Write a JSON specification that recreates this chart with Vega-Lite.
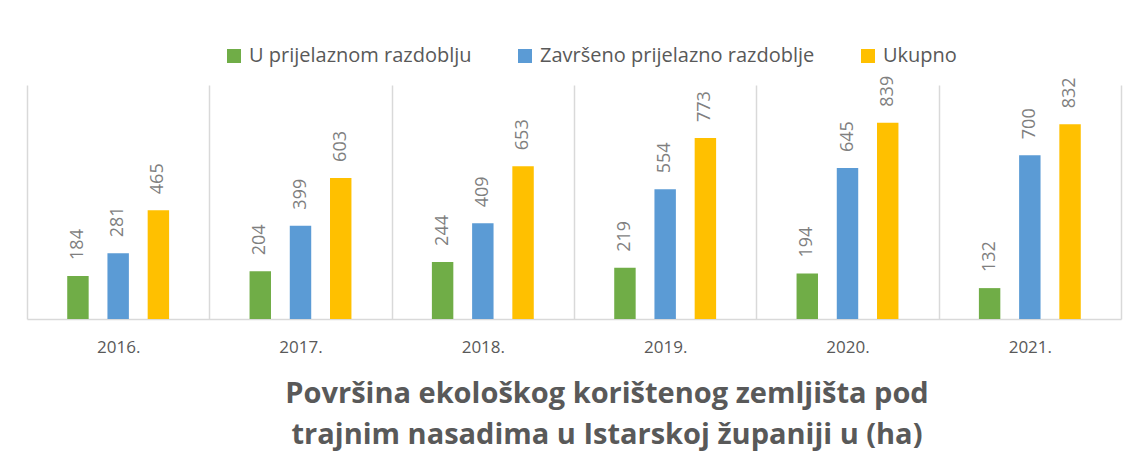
{
  "$schema": "https://vega.github.io/schema/vega-lite/v6.json",
  "width": 1094,
  "height": 234,
  "autosize": {"type": "none"},
  "padding": {"left": 27, "top": 85, "right": 25, "bottom": 142},
  "background": "white",
  "config": {"view": {"stroke": null}, "font": "Open Sans"},
  "data": {"values": [
    {"year": "2016.", "series": "U prijelaznom razdoblju", "value": 184},
    {"year": "2016.", "series": "Završeno prijelazno razdoblje", "value": 281},
    {"year": "2016.", "series": "Ukupno", "value": 465},
    {"year": "2017.", "series": "U prijelaznom razdoblju", "value": 204},
    {"year": "2017.", "series": "Završeno prijelazno razdoblje", "value": 399},
    {"year": "2017.", "series": "Ukupno", "value": 603},
    {"year": "2018.", "series": "U prijelaznom razdoblju", "value": 244},
    {"year": "2018.", "series": "Završeno prijelazno razdoblje", "value": 409},
    {"year": "2018.", "series": "Ukupno", "value": 653},
    {"year": "2019.", "series": "U prijelaznom razdoblju", "value": 219},
    {"year": "2019.", "series": "Završeno prijelazno razdoblje", "value": 554},
    {"year": "2019.", "series": "Ukupno", "value": 773},
    {"year": "2020.", "series": "U prijelaznom razdoblju", "value": 194},
    {"year": "2020.", "series": "Završeno prijelazno razdoblje", "value": 645},
    {"year": "2020.", "series": "Ukupno", "value": 839},
    {"year": "2021.", "series": "U prijelaznom razdoblju", "value": 132},
    {"year": "2021.", "series": "Završeno prijelazno razdoblje", "value": 700},
    {"year": "2021.", "series": "Ukupno", "value": 832}
  ]},
  "title": {
    "text": ["Površina ekološkog korištenog zemljišta pod", "trajnim nasadima u Istarskoj županiji u (ha)"],
    "orient": "bottom",
    "anchor": "middle",
    "dx": 33,
    "offset": 25,
    "font": "Open Sans",
    "fontSize": 29,
    "fontWeight": "bold",
    "color": "#595959",
    "lineHeight": 41,
    "limit": 0
  },
  "encoding": {
    "x": {
      "field": "year", "type": "nominal", "title": null,
      "scale": {"paddingInner": 0, "paddingOuter": 0},
      "axis": {
        "labelAngle": 0, "labelFontSize": 17, "labelColor": "#595959", "labelPadding": 20,
        "ticks": false, "grid": true, "tickBand": "extent", "gridColor": "#d9d9d9", "gridWidth": 1.5,
        "domainColor": "#d9d9d9", "domainWidth": 1.5
      }
    },
    "xOffset": {
      "field": "series", "type": "nominal",
      "sort": ["U prijelaznom razdoblju", "Završeno prijelazno razdoblje", "Ukupno"],
      "scale": {"paddingInner": 0.467, "paddingOuter": 1.164}
    },
    "y": {
      "field": "value", "type": "quantitative",
      "scale": {"domain": [0, 1000], "nice": false},
      "axis": null
    }
  },
  "layer": [
    {
      "mark": {"type": "bar"},
      "encoding": {
        "color": {
          "field": "series", "type": "nominal",
          "sort": ["U prijelaznom razdoblju", "Završeno prijelazno razdoblje", "Ukupno"],
          "scale": {"domain": ["U prijelaznom razdoblju", "Završeno prijelazno razdoblje", "Ukupno"], "range": ["#70AD47", "#5B9BD5", "#FFC000"]},
          "legend": {
            "title": null, "orient": "none", "legendX": 197, "legendY": -39,
            "direction": "horizontal", "symbolType": "square", "symbolSize": 196,
            "symbolStrokeWidth": 0, "labelFontSize": 20, "labelColor": "#595959",
            "columnPadding": 43, "labelOffset": 5, "labelLimit": 400
          }
        }
      }
    },
    {
      "mark": {"type": "text", "angle": -90, "align": "left", "baseline": "middle", "dx": 16, "fontSize": 18, "color": "#7f7f7f"},
      "encoding": {"text": {"field": "value", "type": "quantitative"}}
    }
  ]
}
